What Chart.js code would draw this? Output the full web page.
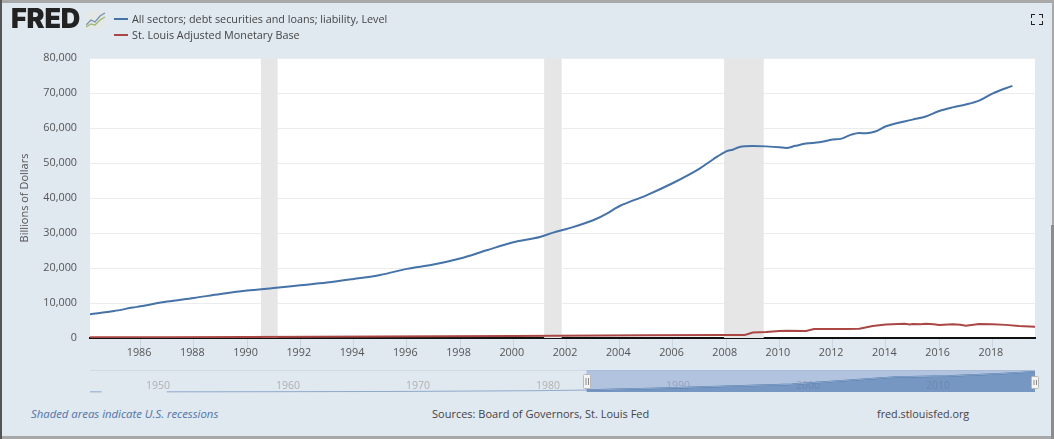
<!DOCTYPE html>
<html>
<head>
<meta charset="utf-8">
<title>FRED</title>
<script src="https://cdn.jsdelivr.net/npm/chart.js@4"></script>
<style>
    html, body { margin: 0; padding: 0; background: #e0e8f0; }
    body { width: 1054px; height: 439px; overflow: hidden; font-family: "Open Sans", sans-serif; }
    #frame { position: relative; width: 1054px; height: 439px; background: #e0e8f0; overflow: hidden; }
    #frame div, #frame canvas, #frame svg { position: absolute; }
    .edge { background: #a8a8a8; }
    #logo { left: 11px; top: 3px; font: 900 27px/32px Inter, sans-serif; letter-spacing: -0.2px; color: #222; }
    .legend { left: 132px; font-size: 10.8px; line-height: 15px; color: #454545; white-space: nowrap; }
    .swatch { left: 114px; width: 14px; height: 2px; }
    .foot { top: 406px; font-size: 11px; line-height: 16px; color: #444; white-space: nowrap; }
</style>
</head>
<body>
<div id="frame">
    <canvas id="main-chart" style="left:0;top:0;width:1054px;height:368px"></canvas>
    <canvas id="nav-chart" style="left:0;top:364px;width:1054px;height:36px"></canvas>

    <div id="logo">FRED</div>
    <svg style="left:86px;top:11px" width="20" height="18" viewBox="0 0 20 18">
        <rect width="20" height="18" fill="#e4e8e6"/>
        <polyline points="0,14 5,9 9,11 14,5 19,2" fill="none" stroke="#6f8fb5" stroke-width="1.2"/>
        <polyline points="0,16 5,13 9,14 14,9 19,6" fill="none" stroke="#9db56f" stroke-width="1.2"/>
    </svg>

    <div class="swatch" style="top:18px;background:#4572a7"></div>
    <div class="legend" style="top:11px">All sectors; debt securities and loans; liability, Level</div>
    <div class="swatch" style="top:34px;background:#aa4643"></div>
    <div class="legend" style="top:27px">St. Louis Adjusted Monetary Base</div>

    <svg style="left:1031px;top:14px" width="12" height="11" viewBox="0 0 12 11">
        <path d="M0 4V0H4M8 0H12V4M12 7V11H8M4 11H0V7" fill="none" stroke="#222" stroke-width="2"/>
    </svg>

    <div class="foot" style="left:31px;font-style:italic;font-size:11.35px;color:#4f74a8">Shaded areas indicate U.S. recessions</div>
    <div class="foot" style="left:432px">Sources: Board of Governors, St. Louis Fed</div>
    <div class="foot" style="left:877px;font-size:10.8px">fred.stlouisfed.org</div>

    <div class="edge" style="left:0;top:0;width:1054px;height:3px"></div>
    <div class="edge" style="left:0;top:436px;width:1054px;height:3px"></div>
    <div style="left:0;top:0;width:2px;height:439px;background:#555"></div>
    <div class="edge" style="left:1052px;top:0;width:2px;height:225px"></div>
    <div style="left:1051px;top:225px;width:3px;height:214px;background:#8c8c8c"></div>
</div>

<script>
// 軸的範圍與刻度
const xMin = 1984.1;
const xMax = 2019.6;
const xTicks = [1986, 1988, 1990, 1992, 1994, 1996, 1998, 2000, 2002, 2004, 2006, 2008, 2010, 2012, 2014, 2016, 2018];
const yTicks = [0, 10000, 20000, 30000, 40000, 50000, 60000, 70000, 80000];

// All sectors; debt securities and loans
const debtYears = [1984.1, 1985, 1985.7, 1986, 1987, 1988, 1989, 1990, 1991, 1992, 1993, 1994, 1995, 1996, 1997, 1998, 1999, 2000, 2001, 2001.5, 2002, 2003, 2003.6, 2003.85, 2004, 2005, 2006, 2007, 2007.5, 2008, 2008.25, 2008.5, 2009, 2009.5, 2010, 2010.25, 2010.6, 2011, 2011.5, 2012, 2012.3, 2012.7, 2013, 2013.25, 2013.6, 2014, 2015, 2015.5, 2016, 2016.5, 2017, 2017.5, 2018, 2018.75];
const debtValues = [6800, 7700, 8690, 9060, 10400, 11430, 12570, 13540, 14290, 15060, 15830, 16860, 18000, 19750, 20970, 22690, 25060, 27340, 28860, 30100, 31140, 33630, 35900, 37100, 37710, 40770, 44290, 48400, 51000, 53340, 53800, 54570, 54860, 54750, 54500, 54300, 54900, 55540, 55900, 56690, 56900, 58100, 58570, 58500, 59000, 60490, 62400, 63300, 64860, 65900, 66690, 67800, 69830, 72050];

// St. Louis Adjusted Monetary Base
const baseYears = [1984.1, 1987, 1990, 1995, 2000, 2005, 2008, 2008.7, 2009, 2009.5, 2010, 2010.3, 2011, 2011.3, 2012, 2012.5, 2013, 2013.5, 2014, 2014.7, 2014.9, 2015, 2015.3, 2015.5, 2015.8, 2016, 2016.5, 2016.8, 2017, 2017.5, 2018, 2018.5, 2019, 2019.6];
const baseValues = [190, 230, 290, 420, 570, 770, 850, 870, 1570, 1700, 1980, 2100, 2000, 2570, 2600, 2550, 2620, 3400, 3860, 4060, 3850, 3980, 3900, 4050, 3950, 3700, 3950, 3800, 3500, 4000, 3900, 3750, 3400, 3200];

// 衰退期陰影
const recessionStarts = [1990.52, 2001.16, 2007.92];
const recessionEnds = [1991.15, 2001.82, 2009.41];

// 導覽列
const navMin = 1946;
const navMax = 2018.7;
const navTicks = [1950, 1960, 1970, 1980, 1990, 2000, 2010];
const navYears = [1946, 1946.9, 1947, 1951.9, 1960, 1970, 1980, 1984.2, 1990, 2000, 2008, 2012, 2016, 2018.7];
const navValues = [500, 500, null, 600, 1000, 2000, 4500, 6800, 13500, 27300, 53300, 56700, 64800, 72000];
const selectionStart = 1984.2;
const selectionEnd = 2018.7;

const toPoints = (xs, ys) => xs.map((x, i) => ({ x: x, y: ys[i] }));

Chart.defaults.font.family = '"Open Sans", sans-serif';
Chart.defaults.animation = false;
Chart.defaults.devicePixelRatio = 1;

const plotBackground = {
    id: 'plotBackground',
    beforeDraw(chart) {
        const a = chart.chartArea;
        chart.ctx.fillStyle = '#ffffff';
        chart.ctx.fillRect(a.left, a.top, a.width, a.height);
    }
};

const recessionBands = {
    id: 'recessionBands',
    beforeDatasetsDraw(chart) {
        const a = chart.chartArea;
        const x = chart.scales.x;
        chart.ctx.fillStyle = '#e6e6e6';
        recessionStarts.forEach((start, i) => {
            const left = x.getPixelForValue(start);
            chart.ctx.fillRect(left, a.top, x.getPixelForValue(recessionEnds[i]) - left, a.height);
        });
    }
};

new Chart(document.getElementById('main-chart'), {
    type: 'line',
    plugins: [plotBackground, recessionBands],
    data: {
        datasets: [
            { label: 'All sectors; debt securities and loans; liability, Level', data: toPoints(debtYears, debtValues), borderColor: '#4572a7', borderWidth: 2, pointRadius: 0, cubicInterpolationMode: 'monotone' },
            { label: 'St. Louis Adjusted Monetary Base', data: toPoints(baseYears, baseValues), borderColor: '#aa4643', borderWidth: 2, pointRadius: 0, tension: 0 }
        ]
    },
    options: {
        responsive: false,
        parsing: false,
        layout: { padding: { left: 0, right: 19, top: 58, bottom: 0 } },
        plugins: { legend: { display: false }, tooltip: { enabled: false } },
        scales: {
            x: {
                type: 'linear',
                min: xMin,
                max: xMax,
                afterFit(scale) { scale.height = 30; },
                afterBuildTicks(scale) { scale.ticks = xTicks.map(v => ({ value: v })); },
                border: { color: '#111111', width: 2 },
                grid: { drawOnChartArea: false, drawTicks: true, tickLength: 10, color: '#ccd6e3' },
                ticks: {
                    color: '#555555',
                    font: { size: 10.8 },
                    padding: -2,
                    labelOffset: -1.5,
                    maxRotation: 0,
                    callback: v => String(v)
                }
            },
            y: {
                min: 0,
                max: 80000,
                afterFit(scale) { scale.width = 90; },
                afterBuildTicks(scale) { scale.ticks = yTicks.map(v => ({ value: v })); },
                border: { display: false },
                grid: { color: '#ececec', lineWidth: 1, drawTicks: false },
                title: {
                    display: true,
                    text: 'Billions of Dollars',
                    color: '#555555',
                    font: { size: 11 },
                    padding: { top: 18, bottom: 0 }
                },
                ticks: {
                    color: '#555555',
                    font: { size: 10.8 },
                    padding: 13,
                    callback: v => v.toLocaleString('en-US')
                }
            }
        }
    }
});

const navSelection = {
    id: 'navSelection',
    beforeDatasetsDraw(chart) {
        const a = chart.chartArea;
        const x = chart.scales.x;
        const left = x.getPixelForValue(selectionStart);
        chart.ctx.fillStyle = '#d3dae3';
        chart.ctx.fillRect(a.left, a.top, a.width, 1);
        chart.ctx.fillStyle = 'rgba(110, 140, 200, 0.4)';
        chart.ctx.fillRect(left, a.top, x.getPixelForValue(selectionEnd) - left, a.height);
    },
    afterDatasetsDraw(chart) {
        const ctx = chart.ctx;
        const a = chart.chartArea;
        const x = chart.scales.x;
        [selectionStart, selectionEnd].forEach((year, i) => {
            const cx = Math.round(x.getPixelForValue(year));
            const top = a.top + (i === 0 ? 4 : 6);
            const h = i === 0 ? 14 : 12;
            ctx.beginPath();
            ctx.roundRect(cx - 3.5, top + 0.5, 7, h, 1);
            ctx.fillStyle = '#f4f4f4';
            ctx.fill();
            ctx.strokeStyle = '#b8b8b8';
            ctx.lineWidth = 1;
            ctx.stroke();
            ctx.beginPath();
            ctx.moveTo(cx - 1, top + 4);
            ctx.lineTo(cx - 1, top + h - 3);
            ctx.moveTo(cx + 1.5, top + 4);
            ctx.lineTo(cx + 1.5, top + h - 3);
            ctx.strokeStyle = '#888888';
            ctx.stroke();
        });
    }
};

// 選取範圍內外各一條線,內側才填色
const navAll = toPoints(navYears, navValues);
const navSelected = navAll.filter(p => p.x >= selectionStart && p.x <= selectionEnd);

new Chart(document.getElementById('nav-chart'), {
    type: 'line',
    plugins: [navSelection],
    data: {
        datasets: [
            { data: navAll, borderColor: '#8fa9cb', borderWidth: 1, pointRadius: 0, tension: 0, spanGaps: false, fill: false },
            { data: navSelected, borderColor: '#4572a7', borderWidth: 1.5, pointRadius: 0, tension: 0, fill: 'origin', backgroundColor: 'rgba(69, 114, 167, 0.55)' }
        ]
    },
    options: {
        responsive: false,
        parsing: false,
        clip: false,
        layout: { padding: { left: 90, right: 19, top: 6, bottom: 0 } },
        plugins: { legend: { display: false }, tooltip: { enabled: false } },
        scales: {
            x: {
                type: 'linear',
                min: navMin,
                max: navMax,
                afterFit(scale) { scale.height = 8; },
                afterBuildTicks(scale) { scale.ticks = navTicks.map(v => ({ value: v })); },
                border: { display: false },
                grid: { display: false },
                ticks: {
                    // mirror 才不會被裁切,標籤畫在區域內
                    mirror: true,
                    color: '#b0b0b0',
                    font: { size: 10.5 },
                    padding: 0,
                    labelOffset: 16,
                    maxRotation: 0,
                    callback: v => String(v)
                }
            },
            y: {
                display: false,
                min: 0,
                max: 78000
            }
        }
    }
});
</script>
</body>
</html>
